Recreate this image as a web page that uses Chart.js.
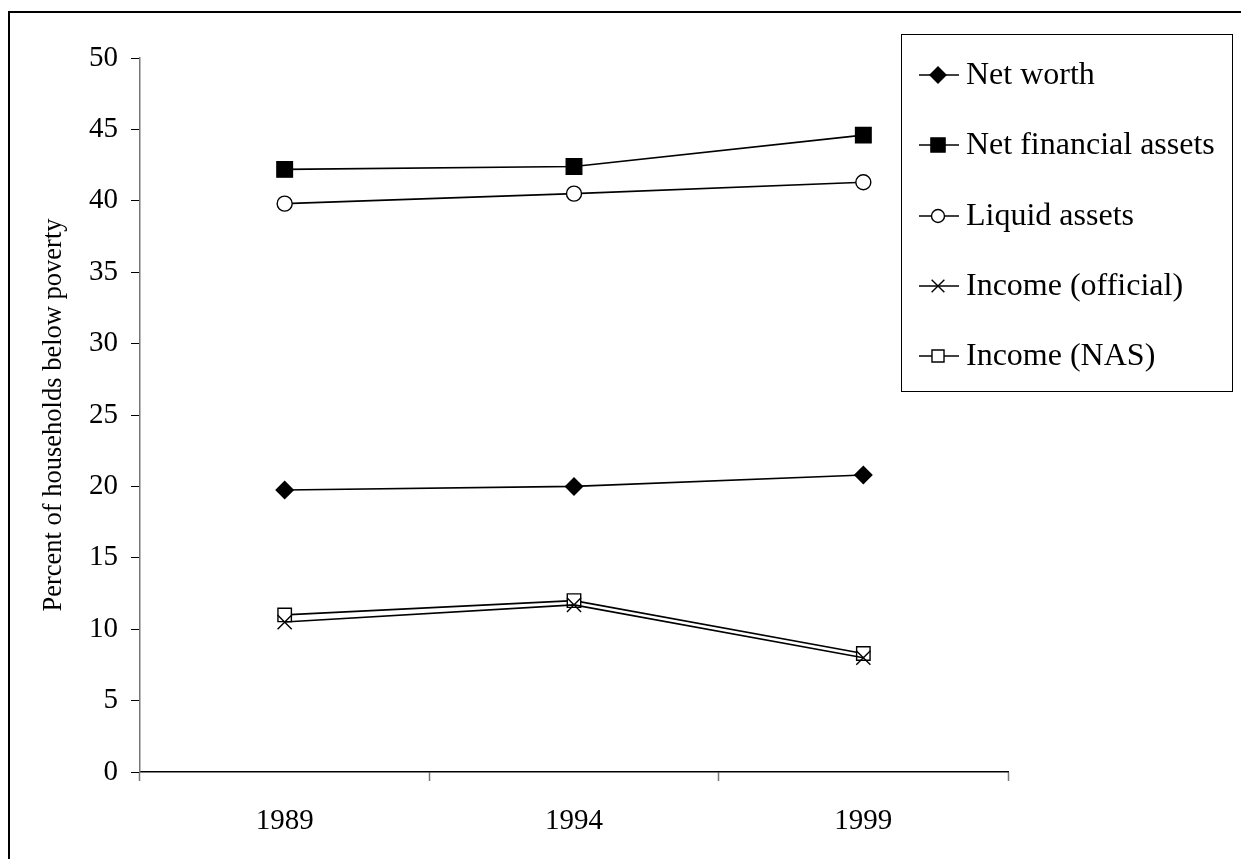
<!DOCTYPE html>
<html>
<head>
<meta charset="utf-8">
<script src="https://cdn.jsdelivr.net/npm/chart.js@4/dist/chart.umd.min.js"></script>
<style>
  html, body { margin: 0; padding: 0; background: #fff; }
  #wrap { width: 1241px; height: 859px; position: relative; }
</style>
</head>
<body>
<div id="wrap"><canvas id="c" width="1241" height="859"></canvas></div>
<script>
// Survey years
const years = ['1989', '1994', '1999'];

// Percent of households below poverty, by measure
const netWorth = [19.75, 20.0, 20.8];
const netFinancialAssets = [42.2, 42.4, 44.6];
const liquidAssets = [39.8, 40.5, 41.3];
const incomeOfficial = [10.5, 11.7, 8.0];
const incomeNAS = [11.0, 12.0, 8.3];

const serif = '"Liberation Serif", "DejaVu Serif", serif';

function series(label, data, pointStyle, fill, radius, legendRadius) {
  return {
    label: label,
    data: data,
    borderColor: '#000',
    borderWidth: 1.6,
    backgroundColor: fill,
    pointStyle: pointStyle,
    pointRadius: radius,
    pointBackgroundColor: fill,
    pointBorderColor: '#000',
    pointBorderWidth: 1.4,
    legendRadius: legendRadius,
    tension: 0
  };
}

const datasets = [
  series('Net worth', netWorth, 'rectRot', '#000', 8.5, 8),
  series('Net financial assets', netFinancialAssets, 'rect', '#000', 11, 10),
  series('Liquid assets', liquidAssets, 'circle', '#fff', 7.5, 6.5),
  series('Income (official)', incomeOfficial, 'crossRot', '#fff', 10, 9),
  series('Income (NAS)', incomeNAS, 'rect', '#fff', 9.5, 8.5)
];

// Outer frame and boxed legend drawn on the canvas
const framePlugin = {
  id: 'frame',
  beforeDraw(chart) {
    const ctx = chart.ctx;
    ctx.save();
    ctx.fillStyle = '#fff';
    ctx.fillRect(0, 0, chart.width, chart.height);
    ctx.strokeStyle = '#000';
    ctx.lineWidth = 2;
    ctx.strokeRect(9, 12, chart.width + 20, chart.height + 20);
    ctx.restore();
  },
  afterDraw(chart) {
    const ctx = chart.ctx;
    ctx.save();
    // legend box
    ctx.strokeStyle = '#000';
    ctx.lineWidth = 1;
    ctx.strokeRect(901.5, 34.5, 331, 357);
    ctx.font = '32px ' + serif;
    ctx.textBaseline = 'middle';
    ctx.textAlign = 'left';
    const rowY = [75, 145, 216, 286, 356];
    chart.data.datasets.forEach((ds, i) => {
      const y = rowY[i];
      ctx.strokeStyle = '#000';
      ctx.lineWidth = 1.6;
      ctx.beginPath();
      ctx.moveTo(919, y);
      ctx.lineTo(959, y);
      ctx.stroke();
      ctx.fillStyle = ds.pointBackgroundColor;
      ctx.lineWidth = 1.4;
      Chart.helpers.drawPoint(ctx, {
        pointStyle: ds.pointStyle,
        radius: ds.legendRadius,
        borderWidth: 1.4,
        rotation: 0
      }, 938, y);
      ctx.fillStyle = '#000';
      ctx.fillText(ds.label, 966, y + 1);
    });
    ctx.restore();
  }
};

new Chart(document.getElementById('c'), {
  type: 'line',
  data: { labels: years, datasets: datasets },
  options: {
    responsive: false,
    animation: false,
    events: [],
    layout: { padding: { left: 0, top: 58, right: 233, bottom: 0 } },
    plugins: {
      legend: { display: false },
      tooltip: { enabled: false }
    },
    scales: {
      x: {
        offset: true,
        grid: {
          offset: true,
          drawOnChartArea: false,
          drawTicks: true,
          tickLength: 9,
          tickColor: '#777',
          tickWidth: 1.5
        },
        border: { color: '#000', width: 1.5 },
        ticks: {
          color: '#000',
          font: { family: serif, size: 29 },
          padding: 23
        },
        afterFit(scale) { scale.height = 859 - 772; }
      },
      y: {
        min: 0,
        max: 50,
        ticks: {
          stepSize: 5,
          color: '#000',
          font: { family: serif, size: 29 },
          padding: 13
        },
        grid: {
          drawOnChartArea: false,
          drawTicks: true,
          tickLength: 9,
          tickColor: '#000',
          tickWidth: 1
        },
        border: { color: '#777', width: 1.5 },
        title: {
          display: true,
          text: 'Percent of households below poverty',
          color: '#000',
          font: { family: serif, size: 26.5 },
          padding: { top: 38, bottom: 0 }
        },
        afterFit(scale) { scale.width = 140; }
      }
    }
  },
  plugins: [framePlugin]
});
</script>
</body>
</html>
